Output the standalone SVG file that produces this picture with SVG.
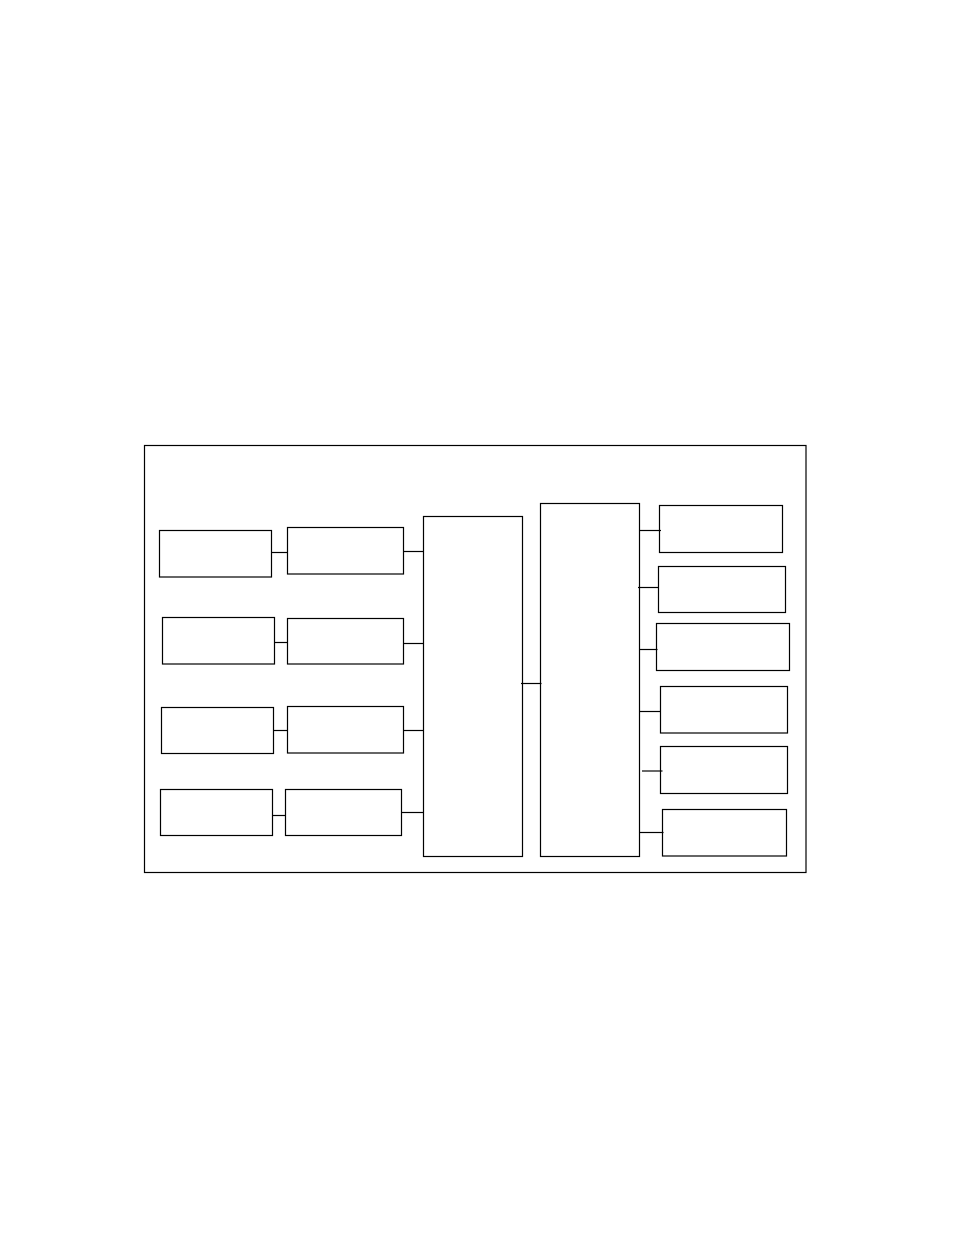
<svg xmlns="http://www.w3.org/2000/svg" width="954" height="1235" viewBox="0 0 954 1235">
<style>
rect{fill:none;stroke:#000;stroke-width:1.2}
line{stroke:#000;stroke-width:1.2}
</style>
<rect width="954" height="1235" style="fill:#fff;stroke:none"/>
<g id="frame"><rect x="144.5" y="445.5" width="661.5" height="427"/></g>
<g id="a1"><rect x="159.5" y="530.5" width="112" height="46.5"/></g>
<g id="a2"><rect x="162.5" y="617.5" width="112" height="46.5"/></g>
<g id="a3"><rect x="161.5" y="707.5" width="112" height="46"/></g>
<g id="a4"><rect x="160.5" y="789.5" width="112" height="46"/></g>
<g id="b1"><rect x="287.5" y="527.5" width="116" height="46.5"/></g>
<g id="b2"><rect x="287.5" y="618.5" width="116" height="45.5"/></g>
<g id="b3"><rect x="287.5" y="706.5" width="116" height="46.5"/></g>
<g id="b4"><rect x="285.5" y="789.5" width="116" height="46"/></g>
<g id="c1"><rect x="423.5" y="516.5" width="99" height="340"/></g>
<g id="c2"><rect x="540.5" y="503.5" width="99" height="353"/></g>
<g id="r1"><rect x="659.5" y="505.5" width="123" height="47"/></g>
<g id="r2"><rect x="658.5" y="566.5" width="127" height="46"/></g>
<g id="r3"><rect x="656.5" y="623.5" width="133" height="47"/></g>
<g id="r4"><rect x="660.5" y="686.5" width="127" height="46.5"/></g>
<g id="r5"><rect x="660.5" y="746.5" width="127" height="47"/></g>
<g id="r6"><rect x="662.5" y="809.5" width="124" height="46.5"/></g>
<g id="connectors">
<line x1="271.5" y1="552.5" x2="288" y2="552.5"/>
<line x1="274.5" y1="642.5" x2="288" y2="642.5"/>
<line x1="273.5" y1="730.5" x2="288" y2="730.5"/>
<line x1="272.5" y1="815.5" x2="285.5" y2="815.5"/>
<line x1="403.5" y1="551.5" x2="423.5" y2="551.5"/>
<line x1="403.5" y1="643.5" x2="423.5" y2="643.5"/>
<line x1="403.5" y1="730.5" x2="423.5" y2="730.5"/>
<line x1="401.5" y1="812.5" x2="423.5" y2="812.5"/>
<line x1="521" y1="683.5" x2="541.5" y2="683.5"/>
<line x1="639.5" y1="530.5" x2="661" y2="530.5"/>
<line x1="638" y1="587.5" x2="658.5" y2="587.5"/>
<line x1="639.5" y1="649.5" x2="657.5" y2="649.5"/>
<line x1="639.5" y1="711.5" x2="660.5" y2="711.5"/>
<line x1="642" y1="771" x2="662.5" y2="771"/>
<line x1="639.5" y1="832.5" x2="663.5" y2="832.5"/>
</g>
</svg>
